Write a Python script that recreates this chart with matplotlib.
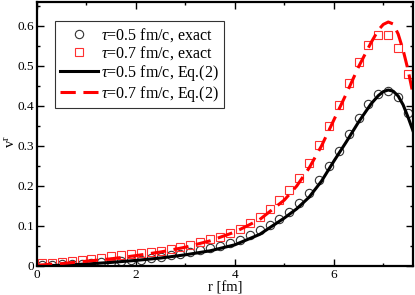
import matplotlib
matplotlib.use("Agg")
import matplotlib.pyplot as plt
from matplotlib.ticker import MultipleLocator

plt.rcParams['font.family'] = ['Liberation Serif', 'DejaVu Serif']
plt.rcParams['mathtext.fontset'] = 'custom'
plt.rcParams['mathtext.rm'] = 'Liberation Serif'
plt.rcParams['mathtext.it'] = 'Liberation Serif:italic'

# exact results (markers)
r_exact = [0.1, 0.3, 0.5, 0.7, 0.9, 1.1, 1.3, 1.5, 1.7, 1.9,
           2.1, 2.3, 2.5, 2.7, 2.9, 3.1, 3.3, 3.5, 3.7, 3.9,
           4.1, 4.3, 4.5, 4.7, 4.9, 5.1, 5.3, 5.5, 5.7, 5.9,
           6.1, 6.3, 6.5, 6.7, 6.9, 7.1, 7.3, 7.5]
v_exact_05 = [0.002, 0.003, 0.004, 0.005, 0.006, 0.0075, 0.009, 0.0105, 0.012, 0.014,
              0.016, 0.019, 0.023, 0.027, 0.031, 0.035, 0.040, 0.044, 0.050, 0.057,
              0.065, 0.077, 0.090, 0.103, 0.117, 0.136, 0.157, 0.183, 0.215, 0.250,
              0.288, 0.330, 0.369, 0.405, 0.430, 0.438, 0.423, 0.383]
v_exact_07 = [0.007, 0.008, 0.011, 0.0125, 0.015, 0.0175, 0.021, 0.025, 0.0275, 0.030,
              0.033, 0.036, 0.038, 0.0425, 0.047, 0.0525, 0.059, 0.067, 0.073, 0.083,
              0.0925, 0.107, 0.122, 0.142, 0.165, 0.190, 0.219, 0.258, 0.3025, 0.350,
              0.4025, 0.458, 0.509, 0.5525, 0.5775, 0.5775, 0.546, 0.479]

# Eq.(2) curves
r_eq = [0, 0.5, 1, 1.5, 2, 2.5, 3, 3.5, 4, 4.5, 5, 5.25, 5.5, 5.75, 6, 6.25,
        6.5, 6.75, 6.9, 7.0, 7.1, 7.2, 7.3, 7.4, 7.5, 7.6]
v_eq_05 = [0.0, 0.002, 0.005, 0.009, 0.014, 0.020, 0.028, 0.038, 0.053, 0.079,
           0.120, 0.143, 0.172, 0.212, 0.262, 0.310, 0.360, 0.405, 0.426, 0.436,
           0.440, 0.437, 0.425, 0.403, 0.372, 0.338]
v_eq_07 = [0.002, 0.006, 0.012, 0.018, 0.026, 0.035, 0.047, 0.063, 0.085, 0.116,
           0.165, 0.200, 0.245, 0.300, 0.365, 0.430, 0.498, 0.558, 0.590, 0.604,
           0.610, 0.605, 0.580, 0.540, 0.490, 0.430]

fig = plt.figure(figsize=(4.15, 2.95), dpi=100)
ax = fig.add_axes([37/415, 29/295, 376/415, 264/295])

ax.plot(r_exact, v_exact_05, 'o', mfc='none', mec='#333333', ms=6, mew=0.8,
        label=r'$\tau$=0.5 fm/c, exact')
ax.plot(r_exact, v_exact_07, 's', mfc='none', mec='#ff3030', ms=5.5, mew=0.8,
        label=r'$\tau$=0.7 fm/c, exact')
ax.plot(r_eq, v_eq_05, '-', color='black', lw=2.2,
        label=r'$\tau$=0.5 fm/c, Eq.(2)')
ax.plot(r_eq, v_eq_07, '--', color='red', lw=2.2, dashes=(5, 2.5),
        label=r'$\tau$=0.7 fm/c, Eq.(2)')

ax.set_xlim(0, 7.6)
ax.set_ylim(0, 0.66)
ax.xaxis.set_minor_locator(MultipleLocator(1))
ax.yaxis.set_minor_locator(MultipleLocator(0.05))
ax.set_xticks([0, 2, 4, 6])
ax.set_xticklabels(['0', '2', '4', '6'])
ax.set_yticks([0, 0.1, 0.2, 0.3, 0.4, 0.5, 0.6])
ax.set_yticklabels(['0', '0.1', '0.2', '0.3', '0.4', '0.5', '0.6'])
ax.tick_params(which='both', direction='in', top=True, right=True,
               labelsize=9.5, pad=2)
ax.tick_params(which='major', length=5, width=1)
ax.tick_params(which='minor', length=2.5, width=1)
for s in ax.spines.values():
    s.set_linewidth(1.6)

ax.set_xlabel('r [fm]', fontsize=10.5, labelpad=0)
ax.set_ylabel(r'v$^{\rm r}$', fontsize=10.5, va='center')
ax.yaxis.set_label_coords(-0.07, 0.47)

leg = ax.legend(loc='upper left', bbox_to_anchor=(0.048, 0.928), borderaxespad=0,
                fontsize=11.5, frameon=True, fancybox=False, edgecolor='black',
                handlelength=2.4, handletextpad=0.2, labelspacing=0.05,
                borderpad=0.3, numpoints=1)
leg.get_frame().set_linewidth(0.8)

fig.savefig('out.png', dpi=100)
